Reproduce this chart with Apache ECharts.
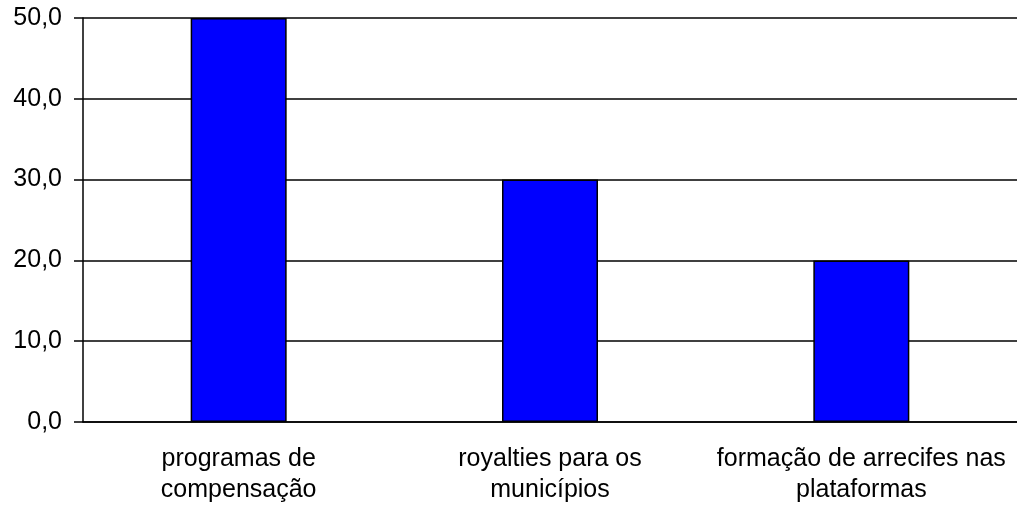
<!DOCTYPE html>
<html>
<head>
<meta charset="utf-8">
<script src="https://cdn.jsdelivr.net/npm/echarts@6/dist/echarts.min.js"></script>
<style>
  html, body { margin: 0; padding: 0; background: #fff; }
  #chart { width: 1017px; height: 506px; }
</style>
</head>
<body>
<div id="chart"></div>
<script>
// categorias e valores
var categorias = ["programas de\ncompensação", "royalties para os\nmunicípios", "formação de arrecifes nas\nplataformas"];
var valores = [50.0, 30.0, 20.0];

var chartDom = document.getElementById("chart");
var myChart = echarts.init(chartDom);

var option = {
  animation: false,
  grid: {
    left: 83,
    top: 18,
    bottom: 84,
    width: 939
  },
  xAxis: {
    type: "category",
    data: categorias,
    axisLine: { lineStyle: { color: "#000", width: 1.5 } },
    axisTick: { length: 8, lineStyle: { color: "#000", width: 1.5 } },
    axisLabel: {
      color: "#000",
      fontFamily: "Liberation Sans",
      fontSize: 25,
      lineHeight: 31,
      margin: 22,
      interval: 0
    }
  },
  yAxis: {
    type: "value",
    min: 0,
    max: 50,
    interval: 10,
    axisLine: { show: true, lineStyle: { color: "#000", width: 1.5 } },
    axisTick: { show: true, length: 9, lineStyle: { color: "#000", width: 1.5 } },
    axisLabel: {
      color: "#000",
      fontFamily: "Liberation Sans",
      fontSize: 25,
      margin: 21,
      padding: [5, 0, 0, 0],
      formatter: function (v) { return v.toFixed(1).replace(".", ","); }
    },
    splitLine: { lineStyle: { color: "#000", width: 1.5 } }
  },
  series: [
    {
      type: "bar",
      data: valores,
      barWidth: 96,
      itemStyle: {
        color: "#0000ff",
        borderColor: "#000",
        borderWidth: 1.5
      }
    }
  ]
};

myChart.setOption(option);
</script>
</body>
</html>
